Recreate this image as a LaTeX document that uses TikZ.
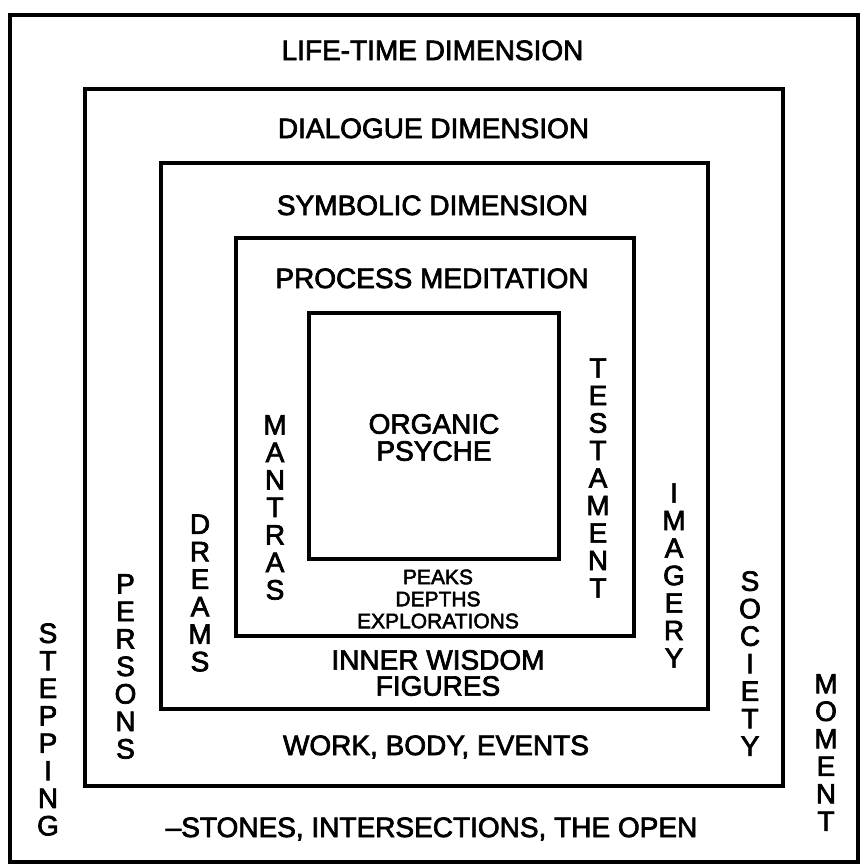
\documentclass[tikz,border=0pt]{standalone}
\usepackage{fontspec}
\setmainfont{Liberation Sans}[FakeBold=2.5]
\begin{document}
\begin{tikzpicture}[x=1pt,y=-1pt,
  frame/.style={draw, line width=3.5pt},
  lbl/.style={inner sep=0pt, font=\fontsize{28}{27}\selectfont, align=center},
  vlbl/.style={inner sep=0pt, font=\fontsize{28}{27.5}\selectfont, align=center},
  smalllbl/.style={inner sep=0pt, font=\fontsize{21}{22}\selectfont, align=center}]
\useasboundingbox (0,0) rectangle (862,867);
% nested frames
\draw[frame] (10,15) rectangle (858,862);
\draw[frame] (85,89) rectangle (783,786);
\draw[frame] (161,163) rectangle (708,709);
\draw[frame] (236,238) rectangle (634,636);
\draw[frame] (309,313) rectangle (559,559);
% horizontal labels
\node[lbl, anchor=base] (lifetime) at (432.5,60) {LIFE-TIME DIMENSION};
\node[lbl, anchor=base] (dialogue) at (433.5,138) {DIALOGUE DIMENSION};
\node[lbl, anchor=base] (symbolic) at (432.5,215) {SYMBOLIC DIMENSION};
\node[lbl, anchor=base] (process) at (432,288) {PROCESS MEDITATION};
\node[lbl] (organic) at (434,437.5) {ORGANIC\\PSYCHE};
\node[smalllbl] (peaks) at (438,599) {PEAKS\\DEPTHS\\EXPLORATIONS};
\node[lbl, align=center, font=\fontsize{28}{26}\selectfont] (wisdom) at (438,673) {INNER WISDOM\\FIGURES};
\node[lbl, anchor=base] (work) at (436,755) {WORK, BODY, EVENTS};
\node[lbl, anchor=base] (stones) at (431.5,837) {–STONES, INTERSECTIONS, THE OPEN};
% vertical labels
\node[vlbl] (stepping) at (48,729.5) {S\\T\\E\\P\\P\\I\\N\\G};
\node[vlbl] (persons) at (125.5,666.5) {P\\E\\R\\S\\O\\N\\S};
\node[vlbl] (dreams) at (200,593) {D\\R\\E\\A\\M\\S};
\node[vlbl] (mantras) at (275,507.5) {M\\A\\N\\T\\R\\A\\S};
\node[vlbl] (testament) at (598,478) {T\\E\\S\\T\\A\\M\\E\\N\\T};
\node[vlbl] (imagery) at (674,575.5) {I\\M\\A\\G\\E\\R\\Y};
\node[vlbl] (society) at (750,663.5) {S\\O\\C\\I\\E\\T\\Y};
\node[vlbl] (moment) at (826,752.5) {M\\O\\M\\E\\N\\T};
\end{tikzpicture}
\end{document}
